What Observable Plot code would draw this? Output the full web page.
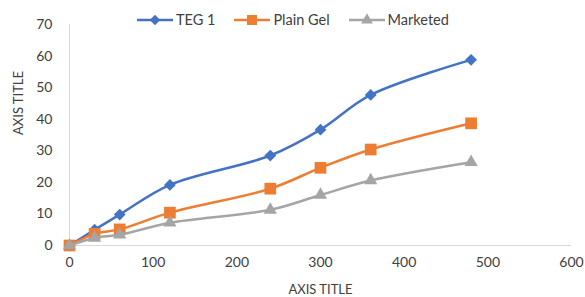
<!DOCTYPE html>
<html><head><meta charset="utf-8">
<script src="https://cdn.jsdelivr.net/npm/d3@7"></script>
<script src="https://cdn.jsdelivr.net/npm/@observablehq/plot@0.6"></script>
<style>
body{margin:0;background:#fff;font-family:Lato, "Open Sans", sans-serif;}
#wrap{position:relative;width:585px;height:297px;overflow:hidden;}
#legend{position:absolute;top:11px;left:137px;display:flex;align-items:center;font-size:14.5px;color:#404040;white-space:nowrap;}
.item{display:flex;align-items:center;margin-right:19px;}
.item svg{margin-right:3px;}
</style></head><body><div id="wrap"><div id="legend"></div></div>
<script>
const times = [0, 30, 60, 120, 240, 300, 360, 480];
const teg1 = [0, 5, 9.8, 19.2, 28.5, 36.7, 47.7, 58.8];
const plainGel = [0, 3.7, 5.1, 10.4, 18, 24.6, 30.4, 38.7];
const marketed = [0, 2.4, 3.4, 7.2, 11.3, 16, 20.6, 26.4];
const seriesNames = ["TEG 1", "Plain Gel", "Marketed"];
const seriesColors = ["#4472C4", "#ED7D31", "#A5A5A5"];
const seriesSymbols = ["diamond2", "square", "triangle"];
const xTicks = [0, 100, 200, 300, 400, 500, 600];
const yTicks = [0, 10, 20, 30, 40, 50, 60, 70];
const axisTitleX = "AXIS TITLE";
const axisTitleY = "AXIS TITLE";

const allSeries = [teg1, plainGel, marketed];
const rows = [];
allSeries.forEach((vals, si) => vals.forEach((v, i) => rows.push({series: seriesNames[si], t: times[i], v})));
const symbolR = [5.3, 6.6, 4.9];

const marks = [
  Plot.ruleX([0], {stroke: "#D9D9D9", strokeWidth: 1}),
  Plot.ruleY([0], {stroke: "#D9D9D9", strokeWidth: 1}),
];
seriesNames.forEach((name, si) => {
  const d = rows.filter(r => r.series === name);
  marks.push(Plot.line(d, {x: "t", y: "v", stroke: seriesColors[si], strokeWidth: 2.5, curve: "catmull-rom"}));
  marks.push(Plot.dot(d, {x: "t", y: "v", fill: seriesColors[si], stroke: "none", symbol: () => seriesSymbols[si], r: symbolR[si]}));
});
marks.push(
  Plot.axisX({ticks: xTicks, tickSize: 0, tickPadding: 12, label: null, fontSize: 14, fill: "#404040"}),
  Plot.axisY({ticks: yTicks, tickSize: 0, tickPadding: 17, label: null, fontSize: 14, fill: "#404040"}),
  Plot.text([axisTitleX], {frameAnchor: "bottom", dy: 44, text: d => d, fontSize: 13, fill: "#404040", lineAnchor: "middle"}),
  Plot.text([axisTitleY], {frameAnchor: "left", dx: -51, rotate: -90, text: d => d, fontSize: 13, fill: "#404040", lineAnchor: "middle"})
);

const chart = Plot.plot({
  width: 585, height: 297,
  marginLeft: 69, marginRight: 14, marginTop: 24, marginBottom: 52,
  style: {fontFamily: "Lato, 'Open Sans', sans-serif", background: "#fff", overflow: "visible"},
  x: {domain: [0, 600]},
  y: {domain: [0, 70]},
  symbol: {type: "identity"},
  marks
});
document.getElementById("wrap").appendChild(chart);

const legend = document.getElementById("legend");
seriesNames.forEach((name, si) => {
  const item = document.createElement("div");
  item.className = "item";
  const sw = d3.create("svg").attr("width", 36).attr("height", 14);
  sw.append("line").attr("x1", 0).attr("x2", 36).attr("y1", 7).attr("y2", 7).attr("stroke", seriesColors[si]).attr("stroke-width", 2.5);
  const sym = {diamond2: d3.symbolDiamond2, square: d3.symbolSquare, triangle: d3.symbolTriangle}[seriesSymbols[si]];
  sw.append("path").attr("d", d3.symbol(sym, [70, 100, 60][si])()).attr("transform", "translate(18,7)").attr("fill", seriesColors[si]);
  item.appendChild(sw.node());
  const lab = document.createElement("span");
  lab.textContent = name;
  item.appendChild(lab);
  legend.appendChild(item);
});
</script></body></html>
